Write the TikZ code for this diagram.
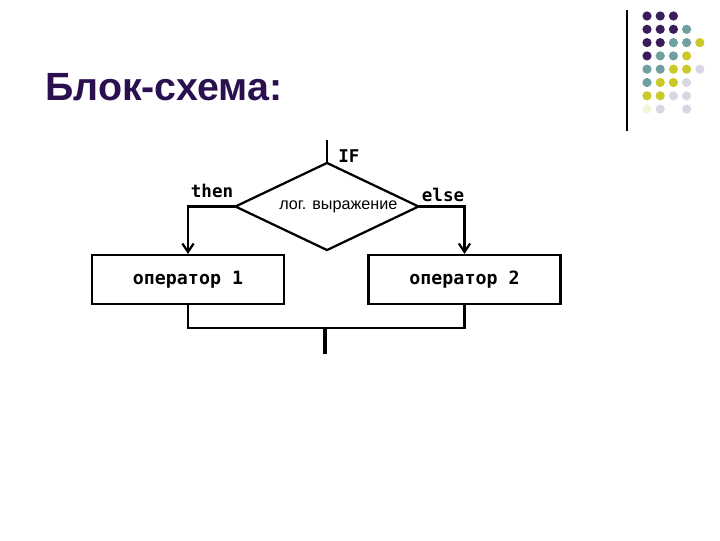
\documentclass[tikz,border=0pt]{standalone}
\usepackage{fontspec}
\setmainfont{Liberation Sans}
\newfontfamily\boldmono{DejaVu Sans Mono}
\usetikzlibrary{shapes.geometric,arrows.meta}

\definecolor{titlepurple}{HTML}{2B1050}
\definecolor{dotpurple}{HTML}{3A1E5C}
\definecolor{dotteal}{HTML}{6FA0A0}
\definecolor{dotyellow}{HTML}{C9C92A}
\definecolor{dotgray}{HTML}{D8D8E4}
\definecolor{dotpale}{HTML}{F4F4D8}

\tikzset{
  flowline/.style={line width=1.6pt, line cap=rect},
  decision/.style={diamond, draw, line width=1.6pt, inner sep=0pt, aspect=2.1,
    minimum width=4.6cm, minimum height=2.2cm, font=\fontsize{11.5}{13}\selectfont},
  opbox/.style={rectangle, draw, line width=1.6pt, minimum width=4.8cm,
    minimum height=1.22cm, font=\boldmono\bfseries\fontsize{13}{15}\selectfont},
  flowlabel/.style={font=\boldmono\bfseries\fontsize{12.5}{14}\selectfont, inner sep=0pt},
}

\begin{document}
\begin{tikzpicture}[x=0.025cm,y=-0.025cm]
\useasboundingbox (0,0) rectangle (720,540);

% decoration top right
\draw[line width=1pt] (627,10) -- (627,131);
\foreach \c/\r/\col in {0/0/dotpurple,1/0/dotpurple,2/0/dotpurple,
  0/1/dotpurple,1/1/dotpurple,2/1/dotpurple,3/1/dotteal,
  0/2/dotpurple,1/2/dotpurple,2/2/dotteal,3/2/dotteal,4/2/dotyellow,
  0/3/dotpurple,1/3/dotteal,2/3/dotteal,3/3/dotyellow,
  0/4/dotteal,1/4/dotteal,2/4/dotyellow,3/4/dotyellow,4/4/dotgray,
  0/5/dotteal,1/5/dotyellow,2/5/dotyellow,3/5/dotgray,
  0/6/dotyellow,1/6/dotyellow,2/6/dotgray,3/6/dotgray,
  0/7/dotpale,1/7/dotgray,3/7/dotgray}
  \fill[\col] (647+13.2*\c,16+13.3*\r) circle (4.6);

% title
\node[anchor=base west, inner sep=0pt, text=titlepurple,
  font=\bfseries\fontsize{28}{32}\selectfont] (title) at (45,100) {Блок-схема:};

% flowchart
\coordinate (start) at (327,141);
\node[decision] (cond) at (327,206.5) {\hspace*{1.4em}лог. выражение};
\node[opbox] (op1) at (188,279.5) {оператор 1};
\node[opbox] (op2) at (464.5,279.5) {оператор 2};
\coordinate (merge) at (325,328);
\coordinate (stop) at (325,354);

\node[flowlabel, anchor=west] (iflabel) at (338,156) {IF};
\node[flowlabel] (thenlabel) at (212,191) {then};
\node[flowlabel] (elselabel) at (443,195) {else};

\draw[flowline] (start) -- (cond.north);
\draw[flowline, -{Straight Barb[length=6pt,width=8pt]}] (cond.west) -| (op1.north);
\draw[flowline, -{Straight Barb[length=6pt,width=8pt]}] (cond.east) -| (op2.north);
\draw[flowline] (op1.south) |- (merge) -| (op2.south);
\draw[line width=2.6pt] (merge) -- (stop);
\end{tikzpicture}
\end{document}
